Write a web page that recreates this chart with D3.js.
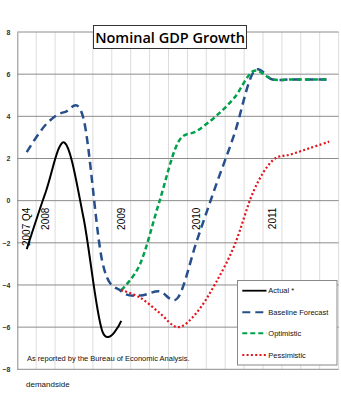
<!DOCTYPE html>
<html>
<head>
<meta charset="utf-8">
<script src="https://cdn.jsdelivr.net/npm/d3@7"></script>
<style>
  html, body { margin: 0; padding: 0; background: #fff; }
  svg { display: block; }
</style>
</head>
<body>
<svg id="chart" width="341" height="400"></svg>
<script>
// ---- data ----
const quarters = ["2007Q4","2008Q1","2008Q2","2008Q3","2008Q4","2009Q1","2009Q2","2009Q3","2009Q4",
                  "2010Q1","2010Q2","2010Q3","2010Q4","2011Q1","2011Q2","2011Q3","2011Q4"];
const categoryLabels = ["2007 Q4","2008","","","","2009","","","","2010","","","","2011","","",""];
const yTicks = [8, 6, 4, 2, 0, -2, -4, -6, -8];
const actual      = [-2.3, 0.4, 2.75, -0.8, -6.2, -5.7, null, null, null, null, null, null, null, null, null, null, null];
const baseline    = [2.3, 3.6, 4.2, 3.9, -2.9, -4.3, -4.5, -4.3, -4.6, -1.9, 0.7, 3.2, 6.1, 5.75, 5.75, 5.75, 5.75];
const optimistic  = [null, null, null, null, null, -4.24, -3.0, -0.1, 2.75, 3.3, 4.0, 4.9, 6.15, 5.75, 5.75, 5.75, 5.75];
const pessimistic = [null, null, null, null, null, -4.24, -4.6, -5.3, -6.0, -5.3, -3.9, -2.1, 0.45, 1.9, 2.2, 2.5, 2.8];
const seriesNames = ["Actual *", "Baseline Forecast", "Optimistic", "Pessimistic"];
const titleText = "Nominal GDP Growth";
const noteText = "As reported by the Bureau of Economic Analysis.";
const sourceText = "demandside";

// ---- styles ----
const styles = [
  {color: "#000000", width: 2, dash: null},
  {color: "#264f8c", width: 2.5, dash: "8,5"},
  {color: "#00a14b", width: 2.5, dash: "5,3"},
  {color: "#e3131b", width: 2.2, dash: "2,2.3"}
];
const seriesData = [actual, baseline, optimistic, pessimistic];

const svg = d3.select("#chart");
const pLeft = 17.3, pRight = 338.6, pTop = 32, pBottom = 369.3;

const x = d3.scaleBand().domain(quarters).range([pLeft, pRight]).paddingInner(0).paddingOuter(0);
const y = d3.scaleLinear().domain([-8, 8]).range([pBottom, pTop]);

// vertical gridlines at category boundaries
const g = svg.append("g");
g.selectAll("line.vg").data(quarters).enter().append("line")
  .attr("x1", d => x(d) + x.bandwidth())
  .attr("x2", d => x(d) + x.bandwidth())
  .attr("y1", pTop).attr("y2", pBottom)
  .attr("stroke", "#dcdcdc").attr("stroke-width", 1);

// horizontal gridlines
g.selectAll("line.hg").data(yTicks).enter().append("line")
  .attr("x1", pLeft).attr("x2", pRight)
  .attr("y1", d => y(d)).attr("y2", d => y(d))
  .attr("stroke", "#8c8c8c").attr("stroke-width", 1);

// left axis
const yAxis = d3.axisLeft(y).tickValues(yTicks).tickSize(0).tickPadding(7);
const ya = svg.append("g").attr("transform", `translate(${pLeft},0)`).call(yAxis);
ya.select(".domain").attr("stroke", "#8c8c8c");
ya.selectAll("text").attr("font-family", "Liberation Sans, Arial, sans-serif")
  .attr("font-size", 7).attr("font-weight", "bold").attr("fill", "#333");

// category labels (rotated, at the zero line)
svg.append("g").selectAll("text").data(categoryLabels).enter().append("text")
  .attr("transform", (d, i) => `translate(${x(quarters[i]) + x.bandwidth() / 2}, ${y(0) + 7}) rotate(-90)`)
  .attr("text-anchor", "end").attr("dy", "0.36em")
  .attr("font-family", "Liberation Sans, Arial, sans-serif").attr("font-size", 10)
  .attr("fill", "#000")
  .text(d => d);

// series lines
const line = d3.line()
  .defined(d => d != null)
  .x((d, i) => x(quarters[i]) + x.bandwidth() / 2)
  .y(d => y(d))
  .curve(d3.curveCardinal.tension(0));

seriesData.forEach((s, k) => {
  const p = svg.append("path").datum(s)
    .attr("fill", "none")
    .attr("stroke", styles[k].color)
    .attr("stroke-width", styles[k].width)
    .attr("d", line);
  if (styles[k].dash) p.attr("stroke-dasharray", styles[k].dash);
});

// title box
const tb = svg.append("g");
tb.append("rect").attr("x", 93.5).attr("y", 25.5).attr("width", 153).attr("height", 23)
  .attr("fill", "#fff").attr("stroke", "#333").attr("stroke-width", 1);
tb.append("text").attr("x", 170).attr("y", 42.5).attr("text-anchor", "middle")
  .attr("font-family", "Open Sans, sans-serif").attr("font-weight", 600).attr("font-size", 14.5)
  .attr("fill", "#000").text(titleText);

// note
svg.append("text").attr("x", 27).attr("y", 360.5)
  .attr("font-family", "Liberation Sans, Arial, sans-serif").attr("font-size", 7.5)
  .attr("fill", "#111").text(noteText);

// source
svg.append("text").attr("x", 26).attr("y", 386.5)
  .attr("font-family", "Liberation Sans, Arial, sans-serif").attr("font-size", 8)
  .attr("fill", "#111").text(sourceText);

// legend
const lg = svg.append("g");
lg.append("rect").attr("x", 237.5).attr("y", 280.5).attr("width", 99.5).attr("height", 84.5)
  .attr("fill", "#fff").attr("stroke", "#888").attr("stroke-width", 1);
const legendY = [290.7, 312.3, 333.3, 355];
seriesNames.forEach((name, k) => {
  const l = lg.append("line").attr("x1", 242.3).attr("x2", 266.5)
    .attr("y1", legendY[k]).attr("y2", legendY[k])
    .attr("stroke", styles[k].color).attr("stroke-width", k === 0 ? 1.8 : 2);
  if (styles[k].dash) l.attr("stroke-dasharray", styles[k].dash);
  lg.append("text").attr("x", 268.3).attr("y", legendY[k]).attr("dy", "0.35em")
    .attr("font-family", "Liberation Sans, Arial, sans-serif").attr("font-size", 7.5)
    .attr("fill", "#111").text(name);
});
</script>
</body>
</html>
